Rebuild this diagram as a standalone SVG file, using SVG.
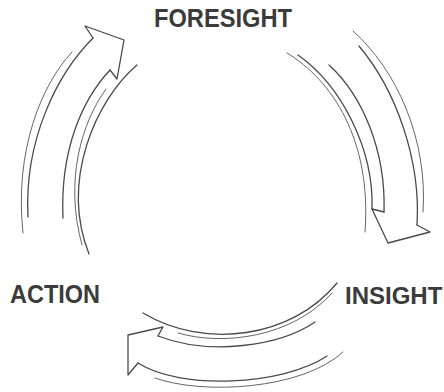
<svg xmlns="http://www.w3.org/2000/svg" width="444" height="392" viewBox="0 0 444 392">
<style>
.lbl{font-family:"Liberation Sans",Arial,sans-serif;font-weight:bold;font-size:25px;fill:#3b3b3b}
.ln{fill:none;stroke:#4a4a4a;stroke-width:1.3;stroke-linecap:round;stroke-linejoin:round}
.lt{fill:none;stroke:#666;stroke-width:1;stroke-linecap:round}
</style>
<rect width="444" height="392" fill="#fff"/>
<g id="foresight"><text class="lbl" x="154" y="27" textLength="138" lengthAdjust="spacingAndGlyphs">FORESIGHT</text></g>
<g id="action"><text class="lbl" x="10" y="303" textLength="90" lengthAdjust="spacingAndGlyphs">ACTION</text></g>
<g id="insight"><text class="lbl" x="345" y="304" style="font-size:24px">INSIGHT</text></g>
<g id="connectors">
<g id="arrow-action-foresight">
<path class="lt" d="M72,52 C42,84 14,150 23,233"/>
<path class="ln" d="M93,38 C57,74 24,140 28,217"/>
<path class="ln" d="M110,70 C82,100 60,150 63,218"/>
<path class="lt" d="M106,89 C82,122 64,180 82,245"/>
<path class="ln" d="M137,65 C96,100 60,180 89,254"/>
<path class="ln" d="M93,38 L85,26 L124,40 L117,79 L110,70"/>
</g>
<g id="arrow-foresight-insight">
<path class="lt" d="M287,53 C332,80 372,140 365,232"/>
<path class="ln" d="M298,55 C342,86 374,150 372,209"/>
<path class="ln" d="M329,65 C362,95 386,150 384,212"/>
<path class="lt" d="M353,31 C397,70 428,140 423,212"/>
<path class="ln" d="M359,46 C396,90 421,160 417,225"/>
<path class="ln" d="M384,212 L372,209 L388,243 L430,232 L417,225"/>
</g>
<g id="arrow-insight-action">
<path class="ln" d="M337,283 C292,338 205,350 143,313"/>
<path class="lt" d="M332,293 C292,338 222,346 178,333"/>
<path class="ln" d="M315,322 C280,346 210,356 158,336"/>
<path class="ln" d="M138,363 C180,390 282,386 327,356"/>
<path class="lt" d="M155,378 C202,395 302,390 343,352"/>
<path class="ln" d="M158,336 L163,327 L128,335 L128,375 L138,363"/>
</g>
</g>
</svg>
